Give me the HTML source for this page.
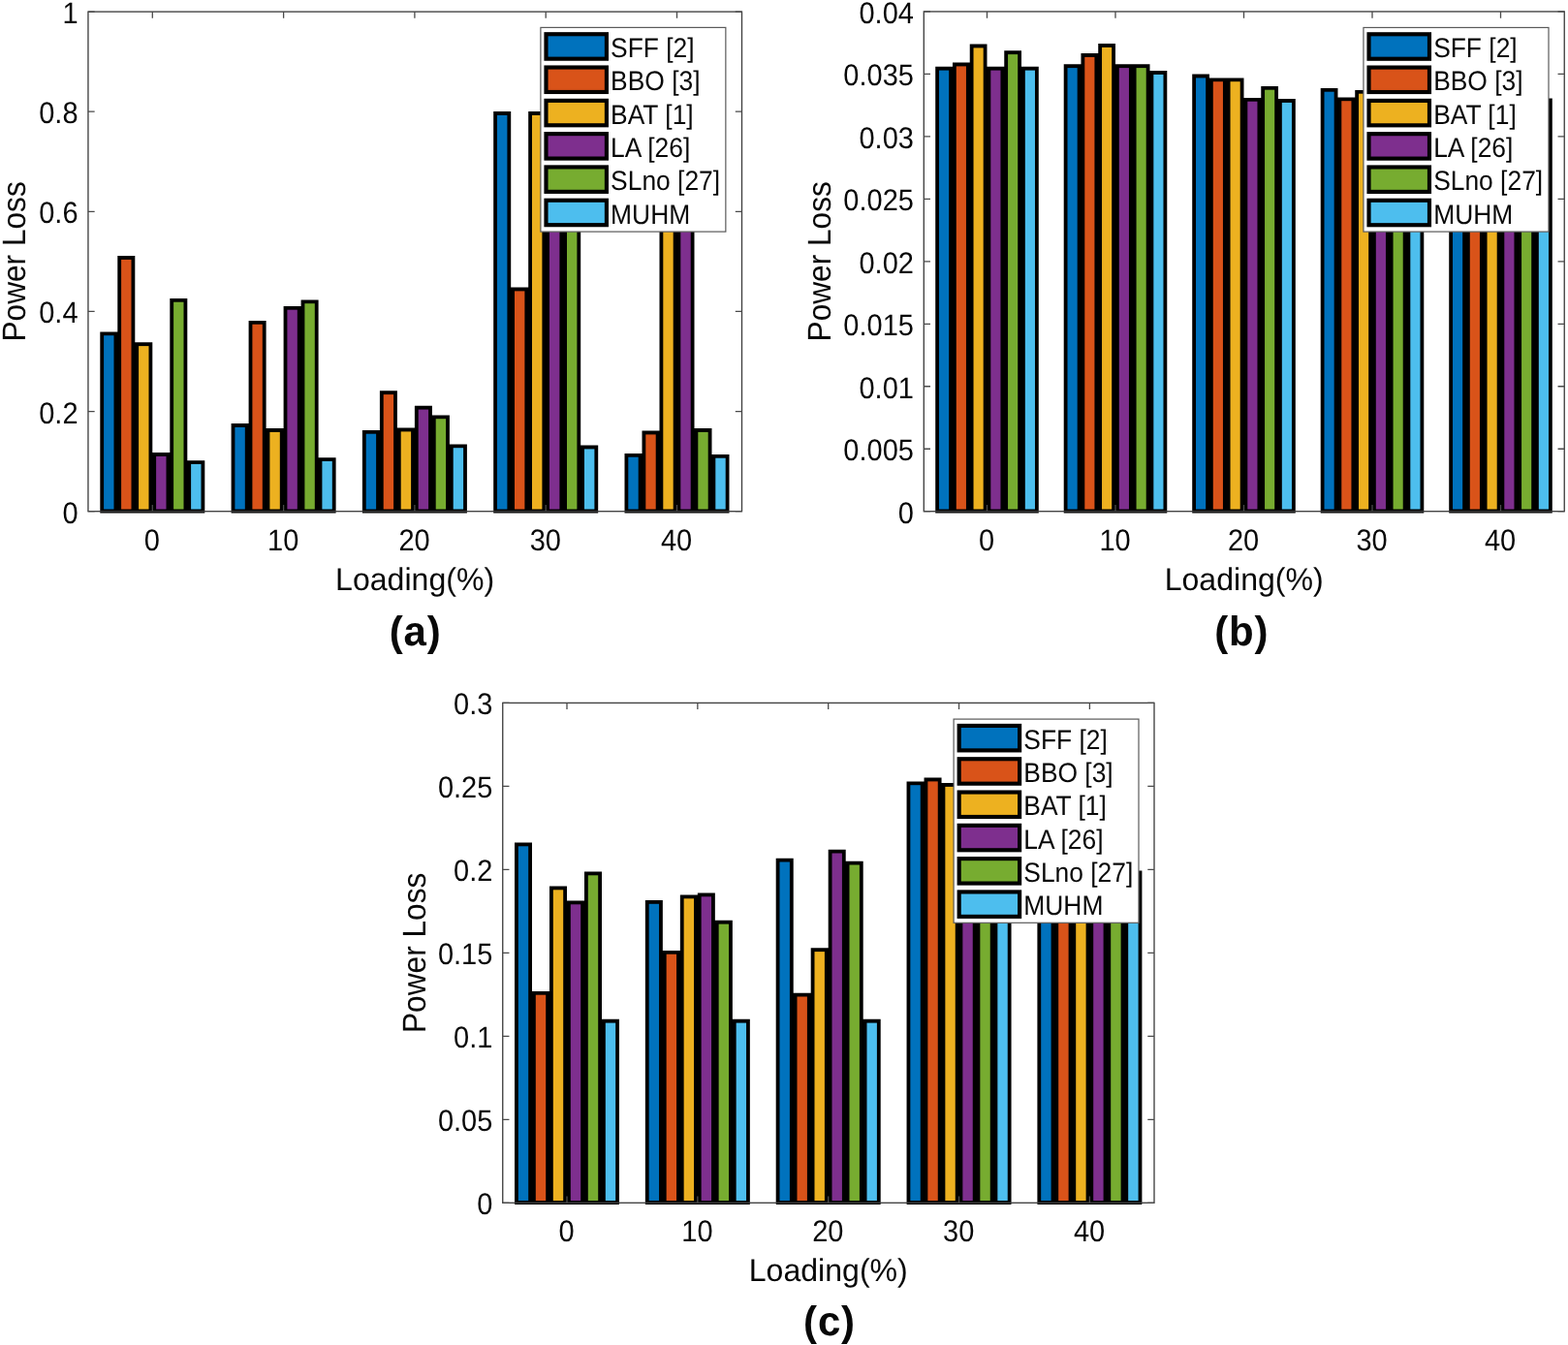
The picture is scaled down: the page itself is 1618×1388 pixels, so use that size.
<!DOCTYPE html>
<html lang="en">
<head>
<meta charset="utf-8">
<title>Power loss versus loading</title>
<style>
html,body{margin:0;padding:0;background:#fff;}
body{width:1618px;height:1388px;overflow:hidden;}
svg{display:block;text-rendering:geometricPrecision;font-family:"Liberation Sans",sans-serif;fill:#080808;}
.sk{fill:#000;stroke:none;}
.ax{stroke:#404040;stroke-width:1.35;fill:none;}
.tc{stroke:#4a4a4a;stroke-width:1.3;fill:none;}
.tk{font-size:29.0px;}
.lb{font-size:32.1px;}
.lg{font-size:26.4px;}
.cp{font-size:42px;font-weight:bold;letter-spacing:0.8px;}
</style>
</head>
<body>
<svg width="1618" height="1388" viewBox="0 0 1618 1388">
<rect x="0" y="0" width="1618" height="1388" fill="#ffffff"/>

<g id="chart-a">
<path class="sk" d="M103.3 529.4V342.4H121.3V264.1H139.3V353.3H157.3V467.1H175.3V307.9H193.3V475.2H211.3V529.4Z"/>
<rect x="107.1" y="346.2" width="10.4" height="179.3" fill="#0072BD"/>
<rect x="125.1" y="267.9" width="10.4" height="257.6" fill="#D95319"/>
<rect x="143.1" y="357.1" width="10.4" height="168.4" fill="#EDB120"/>
<rect x="161.1" y="470.9" width="10.4" height="54.6" fill="#7E2F8E"/>
<rect x="179.1" y="311.7" width="10.4" height="213.8" fill="#77AC30"/>
<rect x="197.1" y="479" width="10.4" height="46.5" fill="#4DBEEE"/>
<path class="sk" d="M238.6 529.4V437.1H256.6V330.9H274.6V442.1H292.6V315.9H310.6V309.4H328.6V472.2H346.6V529.4Z"/>
<rect x="242.4" y="440.9" width="10.4" height="84.6" fill="#0072BD"/>
<rect x="260.4" y="334.7" width="10.4" height="190.8" fill="#D95319"/>
<rect x="278.4" y="445.9" width="10.4" height="79.6" fill="#EDB120"/>
<rect x="296.4" y="319.7" width="10.4" height="205.8" fill="#7E2F8E"/>
<rect x="314.4" y="313.2" width="10.4" height="212.3" fill="#77AC30"/>
<rect x="332.4" y="476" width="10.4" height="49.5" fill="#4DBEEE"/>
<path class="sk" d="M373.9 529.4V443.9H391.9V403.3H409.9V441.6H427.9V418.8H445.9V428.4H463.9V458.4H481.9V529.4Z"/>
<rect x="377.7" y="447.7" width="10.4" height="77.8" fill="#0072BD"/>
<rect x="395.7" y="407.1" width="10.4" height="118.4" fill="#D95319"/>
<rect x="413.7" y="445.4" width="10.4" height="80.1" fill="#EDB120"/>
<rect x="431.7" y="422.6" width="10.4" height="102.9" fill="#7E2F8E"/>
<rect x="449.7" y="432.2" width="10.4" height="93.3" fill="#77AC30"/>
<rect x="467.7" y="462.2" width="10.4" height="63.3" fill="#4DBEEE"/>
<path class="sk" d="M509.2 529.4V115.1H527.2V296.6H545.2V115.1H563.2V115.1H581.2V115.1H599.2V459.6H617.2V529.4Z"/>
<rect x="513" y="118.9" width="10.4" height="406.6" fill="#0072BD"/>
<rect x="531" y="300.4" width="10.4" height="225.1" fill="#D95319"/>
<rect x="549" y="118.9" width="10.4" height="406.6" fill="#EDB120"/>
<rect x="567" y="118.9" width="10.4" height="406.6" fill="#7E2F8E"/>
<rect x="585" y="118.9" width="10.4" height="406.6" fill="#77AC30"/>
<rect x="603" y="463.4" width="10.4" height="62.1" fill="#4DBEEE"/>
<path class="sk" d="M644.5 529.4V467.9H662.5V444.6H680.5V115.1H698.5V115.1H716.5V442.1H734.5V468.9H752.5V529.4Z"/>
<rect x="648.3" y="471.7" width="10.4" height="53.8" fill="#0072BD"/>
<rect x="666.3" y="448.4" width="10.4" height="77.1" fill="#D95319"/>
<rect x="684.3" y="118.9" width="10.4" height="406.6" fill="#EDB120"/>
<rect x="702.3" y="118.9" width="10.4" height="406.6" fill="#7E2F8E"/>
<rect x="720.3" y="445.9" width="10.4" height="79.6" fill="#77AC30"/>
<rect x="738.3" y="472.7" width="10.4" height="52.8" fill="#4DBEEE"/>
<rect class="ax" x="90.95" y="12.1" width="674.55" height="515.6"/>
<path class="tc" d="M157.3 527.7v-6.7M157.3 12.1v6.7M292.6 527.7v-6.7M292.6 12.1v6.7M427.9 527.7v-6.7M427.9 12.1v6.7M563.2 527.7v-6.7M563.2 12.1v6.7M698.5 527.7v-6.7M698.5 12.1v6.7M90.95 527.7h6.7M765.5 527.7h-6.7M90.95 424.58h6.7M765.5 424.58h-6.7M90.95 321.46h6.7M765.5 321.46h-6.7M90.95 218.34h6.7M765.5 218.34h-6.7M90.95 115.22h6.7M765.5 115.22h-6.7M90.95 12.1h6.7M765.5 12.1h-6.7"/>
<text class="tk" transform="translate(156.9 567.8) scale(1 1.07)" text-anchor="middle">0</text>
<text class="tk" transform="translate(292.2 567.8) scale(1 1.07)" text-anchor="middle">10</text>
<text class="tk" transform="translate(427.5 567.8) scale(1 1.07)" text-anchor="middle">20</text>
<text class="tk" transform="translate(562.8 567.8) scale(1 1.07)" text-anchor="middle">30</text>
<text class="tk" transform="translate(698.1 567.8) scale(1 1.07)" text-anchor="middle">40</text>
<text class="tk" transform="translate(80.55 539.7) scale(1 1.07)" text-anchor="end">0</text>
<text class="tk" transform="translate(80.55 436.58) scale(1 1.07)" text-anchor="end">0.2</text>
<text class="tk" transform="translate(80.55 333.46) scale(1 1.07)" text-anchor="end">0.4</text>
<text class="tk" transform="translate(80.55 230.34) scale(1 1.07)" text-anchor="end">0.6</text>
<text class="tk" transform="translate(80.55 127.22) scale(1 1.07)" text-anchor="end">0.8</text>
<text class="tk" transform="translate(80.55 24.1) scale(1 1.07)" text-anchor="end">1</text>
<text class="lb" transform="translate(428.12 608.5) scale(1 1.02)" text-anchor="middle">Loading(%)</text>
<text class="lb" transform="translate(26.1 269.9) rotate(-90) scale(0.986 1.05)" text-anchor="middle">Power Loss</text>
<rect x="557.9" y="28.4" width="190.95" height="210.7" fill="#fff" stroke="#5a5a5a" stroke-width="1.2"/>
<rect x="563.48" y="35.23" width="62.45" height="25.45" fill="#0072BD" stroke="#000" stroke-width="4.15"/>
<text class="lg" transform="translate(630.1 59.05) scale(1 1.07)">SFF [2]</text>
<rect x="563.48" y="69.52" width="62.45" height="25.45" fill="#D95319" stroke="#000" stroke-width="4.15"/>
<text class="lg" transform="translate(630.1 93.35) scale(1 1.07)">BBO [3]</text>
<rect x="563.48" y="103.83" width="62.45" height="25.45" fill="#EDB120" stroke="#000" stroke-width="4.15"/>
<text class="lg" transform="translate(630.1 127.65) scale(1 1.07)">BAT [1]</text>
<rect x="563.48" y="138.12" width="62.45" height="25.45" fill="#7E2F8E" stroke="#000" stroke-width="4.15"/>
<text class="lg" transform="translate(630.1 161.95) scale(1 1.07)">LA [26]</text>
<rect x="563.48" y="172.42" width="62.45" height="25.45" fill="#77AC30" stroke="#000" stroke-width="4.15"/>
<text class="lg" transform="translate(630.1 196.25) scale(1 1.07)">SLno [27]</text>
<rect x="563.48" y="206.72" width="62.45" height="25.45" fill="#4DBEEE" stroke="#000" stroke-width="4.15"/>
<text class="lg" transform="translate(630.1 230.55) scale(1 1.07)">MUHM</text>
<text class="cp" transform="translate(428.62 666.2) scale(1 1.02)" text-anchor="middle">(a)</text>
</g>
<g id="chart-b">
<path class="sk" d="M965.22 529.4V68.8H982.98V64.6H1000.74V45.6H1018.5V68.8H1036.26V52.3H1054.02V68.8H1071.78V529.4Z"/>
<rect x="969.02" y="72.6" width="10.16" height="452.9" fill="#0072BD"/>
<rect x="986.78" y="68.4" width="10.16" height="457.1" fill="#D95319"/>
<rect x="1004.54" y="49.4" width="10.16" height="476.1" fill="#EDB120"/>
<rect x="1022.3" y="72.6" width="10.16" height="452.9" fill="#7E2F8E"/>
<rect x="1040.06" y="56.1" width="10.16" height="469.4" fill="#77AC30"/>
<rect x="1057.82" y="72.6" width="10.16" height="452.9" fill="#4DBEEE"/>
<path class="sk" d="M1097.72 529.4V66.3H1115.48V55.1H1133.24V45.1H1151V66.3H1168.76V66.3H1186.52V73.1H1204.28V529.4Z"/>
<rect x="1101.52" y="70.1" width="10.16" height="455.4" fill="#0072BD"/>
<rect x="1119.28" y="58.9" width="10.16" height="466.6" fill="#D95319"/>
<rect x="1137.04" y="48.9" width="10.16" height="476.6" fill="#EDB120"/>
<rect x="1154.8" y="70.1" width="10.16" height="455.4" fill="#7E2F8E"/>
<rect x="1172.56" y="70.1" width="10.16" height="455.4" fill="#77AC30"/>
<rect x="1190.32" y="76.9" width="10.16" height="448.6" fill="#4DBEEE"/>
<path class="sk" d="M1230.22 529.4V76.6H1247.98V80.4H1265.74V80.4H1283.5V100.9H1301.26V88.9H1319.02V102.1H1336.78V529.4Z"/>
<rect x="1234.02" y="80.4" width="10.16" height="445.1" fill="#0072BD"/>
<rect x="1251.78" y="84.2" width="10.16" height="441.3" fill="#D95319"/>
<rect x="1269.54" y="84.2" width="10.16" height="441.3" fill="#EDB120"/>
<rect x="1287.3" y="104.7" width="10.16" height="420.8" fill="#7E2F8E"/>
<rect x="1305.06" y="92.7" width="10.16" height="432.8" fill="#77AC30"/>
<rect x="1322.82" y="105.9" width="10.16" height="419.6" fill="#4DBEEE"/>
<path class="sk" d="M1362.72 529.4V90.9H1380.48V100.4H1398.24V92.9H1416V100.5H1433.76V94.5H1451.52V101.4H1469.28V529.4Z"/>
<rect x="1366.52" y="94.7" width="10.16" height="430.8" fill="#0072BD"/>
<rect x="1384.28" y="104.2" width="10.16" height="421.3" fill="#D95319"/>
<rect x="1402.04" y="96.7" width="10.16" height="428.8" fill="#EDB120"/>
<rect x="1419.8" y="104.3" width="10.16" height="421.2" fill="#7E2F8E"/>
<rect x="1437.56" y="98.3" width="10.16" height="427.2" fill="#77AC30"/>
<rect x="1455.32" y="105.2" width="10.16" height="420.3" fill="#4DBEEE"/>
<path class="sk" d="M1495.22 529.4V101.4H1512.98V101.4H1530.74V101.4H1548.5V101.4H1566.26V101.4H1584.02V101.4H1601.78V529.4Z"/>
<rect x="1499.02" y="105.2" width="10.16" height="420.3" fill="#0072BD"/>
<rect x="1516.78" y="105.2" width="10.16" height="420.3" fill="#D95319"/>
<rect x="1534.54" y="105.2" width="10.16" height="420.3" fill="#EDB120"/>
<rect x="1552.3" y="105.2" width="10.16" height="420.3" fill="#7E2F8E"/>
<rect x="1570.06" y="105.2" width="10.16" height="420.3" fill="#77AC30"/>
<rect x="1587.82" y="105.2" width="10.16" height="420.3" fill="#4DBEEE"/>
<rect class="ax" x="953.3" y="11.95" width="660.95" height="515.75"/>
<path class="tc" d="M1018.5 527.7v-6.7M1018.5 11.95v6.7M1151 527.7v-6.7M1151 11.95v6.7M1283.5 527.7v-6.7M1283.5 11.95v6.7M1416 527.7v-6.7M1416 11.95v6.7M1548.5 527.7v-6.7M1548.5 11.95v6.7M953.3 527.7h6.7M1614.25 527.7h-6.7M953.3 463.23h6.7M1614.25 463.23h-6.7M953.3 398.76h6.7M1614.25 398.76h-6.7M953.3 334.29h6.7M1614.25 334.29h-6.7M953.3 269.83h6.7M1614.25 269.83h-6.7M953.3 205.36h6.7M1614.25 205.36h-6.7M953.3 140.89h6.7M1614.25 140.89h-6.7M953.3 76.42h6.7M1614.25 76.42h-6.7M953.3 11.95h6.7M1614.25 11.95h-6.7"/>
<text class="tk" transform="translate(1018.1 567.8) scale(1 1.07)" text-anchor="middle">0</text>
<text class="tk" transform="translate(1150.6 567.8) scale(1 1.07)" text-anchor="middle">10</text>
<text class="tk" transform="translate(1283.1 567.8) scale(1 1.07)" text-anchor="middle">20</text>
<text class="tk" transform="translate(1415.6 567.8) scale(1 1.07)" text-anchor="middle">30</text>
<text class="tk" transform="translate(1548.1 567.8) scale(1 1.07)" text-anchor="middle">40</text>
<text class="tk" transform="translate(942.9 539.7) scale(1 1.07)" text-anchor="end">0</text>
<text class="tk" transform="translate(942.9 475.23) scale(1 1.07)" text-anchor="end">0.005</text>
<text class="tk" transform="translate(942.9 410.76) scale(1 1.07)" text-anchor="end">0.01</text>
<text class="tk" transform="translate(942.9 346.29) scale(1 1.07)" text-anchor="end">0.015</text>
<text class="tk" transform="translate(942.9 281.83) scale(1 1.07)" text-anchor="end">0.02</text>
<text class="tk" transform="translate(942.9 217.36) scale(1 1.07)" text-anchor="end">0.025</text>
<text class="tk" transform="translate(942.9 152.89) scale(1 1.07)" text-anchor="end">0.03</text>
<text class="tk" transform="translate(942.9 88.42) scale(1 1.07)" text-anchor="end">0.035</text>
<text class="tk" transform="translate(942.9 23.95) scale(1 1.07)" text-anchor="end">0.04</text>
<text class="lb" transform="translate(1283.68 608.5) scale(1 1.02)" text-anchor="middle">Loading(%)</text>
<text class="lb" transform="translate(856.9 269.83) rotate(-90) scale(0.986 1.05)" text-anchor="middle">Power Loss</text>
<rect x="1406.95" y="28.45" width="191.05" height="210.65" fill="#fff" stroke="#5a5a5a" stroke-width="1.2"/>
<rect x="1412.53" y="35.28" width="62.45" height="25.45" fill="#0072BD" stroke="#000" stroke-width="4.15"/>
<text class="lg" transform="translate(1479.15 59.1) scale(1 1.07)">SFF [2]</text>
<rect x="1412.53" y="69.58" width="62.45" height="25.45" fill="#D95319" stroke="#000" stroke-width="4.15"/>
<text class="lg" transform="translate(1479.15 93.4) scale(1 1.07)">BBO [3]</text>
<rect x="1412.53" y="103.88" width="62.45" height="25.45" fill="#EDB120" stroke="#000" stroke-width="4.15"/>
<text class="lg" transform="translate(1479.15 127.7) scale(1 1.07)">BAT [1]</text>
<rect x="1412.53" y="138.17" width="62.45" height="25.45" fill="#7E2F8E" stroke="#000" stroke-width="4.15"/>
<text class="lg" transform="translate(1479.15 162) scale(1 1.07)">LA [26]</text>
<rect x="1412.53" y="172.47" width="62.45" height="25.45" fill="#77AC30" stroke="#000" stroke-width="4.15"/>
<text class="lg" transform="translate(1479.15 196.3) scale(1 1.07)">SLno [27]</text>
<rect x="1412.53" y="206.77" width="62.45" height="25.45" fill="#4DBEEE" stroke="#000" stroke-width="4.15"/>
<text class="lg" transform="translate(1479.15 230.6) scale(1 1.07)">MUHM</text>
<text class="cp" transform="translate(1281.18 666.2) scale(1 1.02)" text-anchor="middle">(b)</text>
</g>
<g id="chart-c">
<path class="sk" d="M531 1243V869.5H549V1022.9H567V914.5H585V929.5H603V899.5H621V1051.8H639V1243Z"/>
<rect x="534.8" y="873.3" width="10.4" height="365.8" fill="#0072BD"/>
<rect x="552.8" y="1026.7" width="10.4" height="212.4" fill="#D95319"/>
<rect x="570.8" y="918.3" width="10.4" height="320.8" fill="#EDB120"/>
<rect x="588.8" y="933.3" width="10.4" height="305.8" fill="#7E2F8E"/>
<rect x="606.8" y="903.3" width="10.4" height="335.8" fill="#77AC30"/>
<rect x="624.8" y="1055.6" width="10.4" height="183.5" fill="#4DBEEE"/>
<path class="sk" d="M665.85 1243V929H683.85V980.9H701.85V923.5H719.85V921.5H737.85V949.8H755.85V1051.8H773.85V1243Z"/>
<rect x="669.65" y="932.8" width="10.4" height="306.3" fill="#0072BD"/>
<rect x="687.65" y="984.7" width="10.4" height="254.4" fill="#D95319"/>
<rect x="705.65" y="927.3" width="10.4" height="311.8" fill="#EDB120"/>
<rect x="723.65" y="925.3" width="10.4" height="313.8" fill="#7E2F8E"/>
<rect x="741.65" y="953.6" width="10.4" height="285.5" fill="#77AC30"/>
<rect x="759.65" y="1055.6" width="10.4" height="183.5" fill="#4DBEEE"/>
<path class="sk" d="M800.7 1243V885.7H818.7V1024.7H836.7V978.3H854.7V876.7H872.7V888.7H890.7V1051.8H908.7V1243Z"/>
<rect x="804.5" y="889.5" width="10.4" height="349.6" fill="#0072BD"/>
<rect x="822.5" y="1028.5" width="10.4" height="210.6" fill="#D95319"/>
<rect x="840.5" y="982.1" width="10.4" height="257" fill="#EDB120"/>
<rect x="858.5" y="880.5" width="10.4" height="358.6" fill="#7E2F8E"/>
<rect x="876.5" y="892.5" width="10.4" height="346.6" fill="#77AC30"/>
<rect x="894.5" y="1055.6" width="10.4" height="183.5" fill="#4DBEEE"/>
<path class="sk" d="M935.55 1243V806.4H953.55V802.6H971.55V808.1H989.55V808H1007.55V808H1025.55V808H1043.55V1243Z"/>
<rect x="939.35" y="810.2" width="10.4" height="428.9" fill="#0072BD"/>
<rect x="957.35" y="806.4" width="10.4" height="432.7" fill="#D95319"/>
<rect x="975.35" y="811.9" width="10.4" height="427.2" fill="#EDB120"/>
<rect x="993.35" y="811.8" width="10.4" height="427.3" fill="#7E2F8E"/>
<rect x="1011.35" y="811.8" width="10.4" height="427.3" fill="#77AC30"/>
<rect x="1029.35" y="811.8" width="10.4" height="427.3" fill="#4DBEEE"/>
<path class="sk" d="M1070.4 1243V898.5H1088.4V898.5H1106.4V898.5H1124.4V898.5H1142.4V898.5H1160.4V898.5H1178.4V1243Z"/>
<rect x="1074.2" y="902.3" width="10.4" height="336.8" fill="#0072BD"/>
<rect x="1092.2" y="902.3" width="10.4" height="336.8" fill="#D95319"/>
<rect x="1110.2" y="902.3" width="10.4" height="336.8" fill="#EDB120"/>
<rect x="1128.2" y="902.3" width="10.4" height="336.8" fill="#7E2F8E"/>
<rect x="1146.2" y="902.3" width="10.4" height="336.8" fill="#77AC30"/>
<rect x="1164.2" y="902.3" width="10.4" height="336.8" fill="#4DBEEE"/>
<rect class="ax" x="518.75" y="725.4" width="672.25" height="515.9"/>
<path class="tc" d="M585 1241.3v-6.7M585 725.4v6.7M719.85 1241.3v-6.7M719.85 725.4v6.7M854.7 1241.3v-6.7M854.7 725.4v6.7M989.55 1241.3v-6.7M989.55 725.4v6.7M1124.4 1241.3v-6.7M1124.4 725.4v6.7M518.75 1241.3h6.7M1191 1241.3h-6.7M518.75 1155.32h6.7M1191 1155.32h-6.7M518.75 1069.33h6.7M1191 1069.33h-6.7M518.75 983.35h6.7M1191 983.35h-6.7M518.75 897.37h6.7M1191 897.37h-6.7M518.75 811.38h6.7M1191 811.38h-6.7M518.75 725.4h6.7M1191 725.4h-6.7"/>
<text class="tk" transform="translate(584.6 1281.4) scale(1 1.07)" text-anchor="middle">0</text>
<text class="tk" transform="translate(719.45 1281.4) scale(1 1.07)" text-anchor="middle">10</text>
<text class="tk" transform="translate(854.3 1281.4) scale(1 1.07)" text-anchor="middle">20</text>
<text class="tk" transform="translate(989.15 1281.4) scale(1 1.07)" text-anchor="middle">30</text>
<text class="tk" transform="translate(1124 1281.4) scale(1 1.07)" text-anchor="middle">40</text>
<text class="tk" transform="translate(508.35 1253.3) scale(1 1.07)" text-anchor="end">0</text>
<text class="tk" transform="translate(508.35 1167.32) scale(1 1.07)" text-anchor="end">0.05</text>
<text class="tk" transform="translate(508.35 1081.33) scale(1 1.07)" text-anchor="end">0.1</text>
<text class="tk" transform="translate(508.35 995.35) scale(1 1.07)" text-anchor="end">0.15</text>
<text class="tk" transform="translate(508.35 909.37) scale(1 1.07)" text-anchor="end">0.2</text>
<text class="tk" transform="translate(508.35 823.38) scale(1 1.07)" text-anchor="end">0.25</text>
<text class="tk" transform="translate(508.35 737.4) scale(1 1.07)" text-anchor="end">0.3</text>
<text class="lb" transform="translate(854.77 1322.1) scale(1 1.02)" text-anchor="middle">Loading(%)</text>
<text class="lb" transform="translate(438.9 983.35) rotate(-90) scale(0.986 1.05)" text-anchor="middle">Power Loss</text>
<rect x="984.1" y="742.1" width="190.9" height="210.2" fill="#fff" stroke="#5a5a5a" stroke-width="1.2"/>
<rect x="989.68" y="748.93" width="62.45" height="25.45" fill="#0072BD" stroke="#000" stroke-width="4.15"/>
<text class="lg" transform="translate(1056.3 772.75) scale(1 1.07)">SFF [2]</text>
<rect x="989.68" y="783.23" width="62.45" height="25.45" fill="#D95319" stroke="#000" stroke-width="4.15"/>
<text class="lg" transform="translate(1056.3 807.05) scale(1 1.07)">BBO [3]</text>
<rect x="989.68" y="817.53" width="62.45" height="25.45" fill="#EDB120" stroke="#000" stroke-width="4.15"/>
<text class="lg" transform="translate(1056.3 841.35) scale(1 1.07)">BAT [1]</text>
<rect x="989.68" y="851.83" width="62.45" height="25.45" fill="#7E2F8E" stroke="#000" stroke-width="4.15"/>
<text class="lg" transform="translate(1056.3 875.65) scale(1 1.07)">LA [26]</text>
<rect x="989.68" y="886.12" width="62.45" height="25.45" fill="#77AC30" stroke="#000" stroke-width="4.15"/>
<text class="lg" transform="translate(1056.3 909.95) scale(1 1.07)">SLno [27]</text>
<rect x="989.68" y="920.43" width="62.45" height="25.45" fill="#4DBEEE" stroke="#000" stroke-width="4.15"/>
<text class="lg" transform="translate(1056.3 944.25) scale(1 1.07)">MUHM</text>
<text class="cp" transform="translate(855.98 1378.3) scale(1 1.02)" text-anchor="middle">(c)</text>
</g>
</svg>
</body>
</html>
